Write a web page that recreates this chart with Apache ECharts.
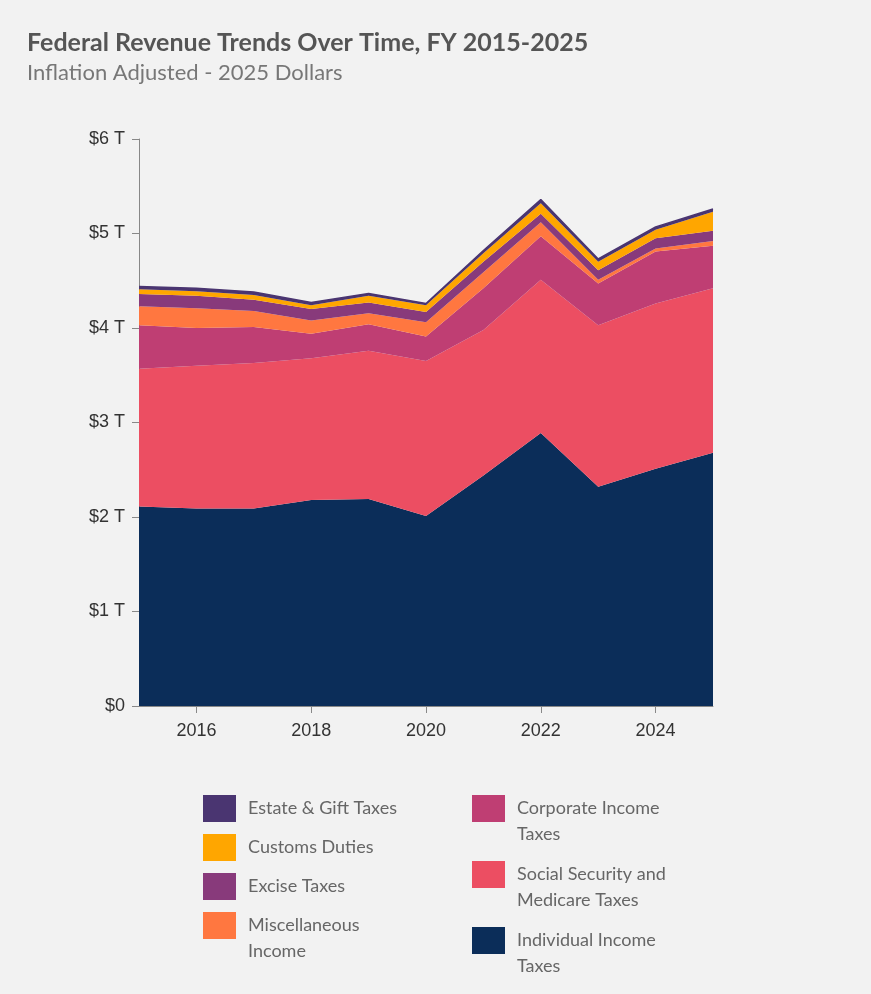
<!DOCTYPE html>
<html>
<head>
<meta charset="utf-8">
<script src="https://cdn.jsdelivr.net/npm/echarts@6/dist/echarts.min.js"></script>
<style>
  html, body { margin: 0; padding: 0; background: #f2f2f2; }
  #chart { width: 871px; height: 994px; }
</style>
</head>
<body>
<div id="chart"></div>
<script>
// fiscal years and revenue by source, trillions of 2025 dollars
var years = ['2015', '2016', '2017', '2018', '2019', '2020', '2021', '2022', '2023', '2024', '2025'];
var individualIncome = [2.11, 2.09, 2.09, 2.18, 2.19, 2.01, 2.44, 2.89, 2.32, 2.51, 2.68];
var socialSecurity   = [1.46, 1.51, 1.54, 1.50, 1.57, 1.64, 1.54, 1.62, 1.71, 1.75, 1.74];
var corporateIncome  = [0.46, 0.40, 0.38, 0.26, 0.28, 0.26, 0.44, 0.46, 0.44, 0.55, 0.45];
var miscIncome       = [0.20, 0.21, 0.17, 0.14, 0.115, 0.15, 0.17, 0.15, 0.04, 0.03, 0.05];
var exciseTaxes      = [0.13, 0.13, 0.12, 0.12, 0.115, 0.11, 0.11, 0.09, 0.10, 0.11, 0.11];
var customsDuties    = [0.05, 0.05, 0.05, 0.04, 0.07, 0.07, 0.09, 0.11, 0.09, 0.09, 0.20];
var estateGift       = [0.03, 0.03, 0.03, 0.03, 0.025, 0.02, 0.03, 0.04, 0.03, 0.03, 0.03];
var yTicks = [0, 1, 2, 3, 4, 5, 6];

var layers = [
    { name: 'Individual Income Taxes', label: 'Individual Income\nTaxes', data: individualIncome, color: '#0b2d59' },
    { name: 'Social Security and Medicare Taxes', label: 'Social Security and\nMedicare Taxes', data: socialSecurity, color: '#ec4e62' },
    { name: 'Corporate Income Taxes', label: 'Corporate Income\nTaxes', data: corporateIncome, color: '#bf3e73' },
    { name: 'Miscellaneous Income', label: 'Miscellaneous\nIncome', data: miscIncome, color: '#ff7740' },
    { name: 'Excise Taxes', label: 'Excise Taxes', data: exciseTaxes, color: '#883a7b' },
    { name: 'Customs Duties', label: 'Customs Duties', data: customsDuties, color: '#ffa600' },
    { name: 'Estate & Gift Taxes', label: 'Estate & Gift Taxes', data: estateGift, color: '#4a3571' }
];

// where each legend entry sits (icon top-left)
var legendSpots = {
    'Estate & Gift Taxes': [203, 795],
    'Customs Duties': [203, 834],
    'Excise Taxes': [203, 873],
    'Miscellaneous Income': [203, 912],
    'Corporate Income Taxes': [472, 795],
    'Social Security and Medicare Taxes': [472, 861],
    'Individual Income Taxes': [472, 927]
};

var myChart = echarts.init(document.getElementById('chart'));

// one legend per entry; a blank first line keeps line one level with the swatch
var legends = layers.map(function (l) {
    var spot = legendSpots[l.name];
    var twoLines = l.label.indexOf('\n') >= 0;
    return {
        data: [l.name],
        left: spot[0] - 5,
        top: twoLines ? spot[1] - 25.5 - 5 : spot[1] - 5,
        itemWidth: 33,
        itemHeight: 27,
        itemGap: 0,
        icon: 'rect',
        selectedMode: false,
        formatter: function () { return twoLines ? ' \n' + l.label : l.label; },
        textStyle: {
            fontFamily: 'Lato',
            fontSize: 18,
            color: '#666',
            lineHeight: 26,
            padding: [0, 0, 0, 7]
        }
    };
});

myChart.setOption({
    backgroundColor: '#f2f2f2',
    animation: false,
    title: {
        text: 'Federal Revenue Trends Over Time, FY 2015-2025',
        subtext: 'Inflation Adjusted - 2025 Dollars',
        left: 22,
        top: 25,
        itemGap: 7,
        textStyle: { fontFamily: 'Lato', fontSize: 25, fontWeight: 'bold', color: '#555' },
        subtextStyle: { fontFamily: 'Lato', fontSize: 22, color: '#777' }
    },
    legend: legends,
    grid: { left: 139, right: 158, top: 139, bottom: 288, containLabel: false },
    xAxis: {
        type: 'category',
        data: years,
        boundaryGap: false,
        axisLine: { show: true, lineStyle: { color: '#888' } },
        axisTick: {
            show: true,
            length: 7,
            lineStyle: { color: '#888' },
            interval: function (i, v) { return Number(v) % 2 === 0; }
        },
        axisLabel: {
            interval: function (i, v) { return Number(v) % 2 === 0; },
            fontFamily: 'Liberation Sans',
            fontSize: 18,
            color: '#333',
            margin: 16
        },
        splitLine: { show: false }
    },
    yAxis: {
        type: 'value',
        min: yTicks[0],
        max: yTicks[yTicks.length - 1],
        interval: 1,
        axisLine: { show: true, lineStyle: { color: '#888' } },
        axisTick: { show: true, length: 7, lineStyle: { color: '#888' } },
        axisLabel: {
            fontFamily: 'Liberation Sans',
            fontSize: 18,
            color: '#333',
            margin: 14,
            formatter: function (v) { return v === 0 ? '$0' : '$' + v + ' T'; }
        },
        splitLine: { show: false }
    },
    series: layers.map(function (l) {
        var top = l.name === 'Estate & Gift Taxes';
        return {
            name: l.name,
            type: 'line',
            stack: 'revenue',
            data: l.data,
            symbol: 'none',
            color: l.color,
            lineStyle: { width: top ? 1.5 : 0, color: l.color },
            areaStyle: { color: l.color, opacity: 1 }
        };
    })
});
</script>
</body>
</html>
